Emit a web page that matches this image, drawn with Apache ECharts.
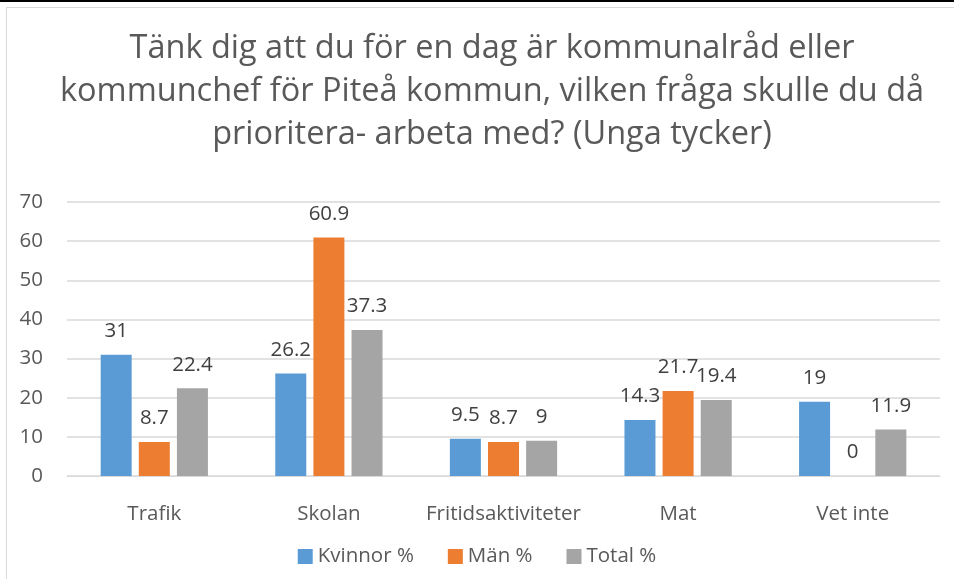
<!DOCTYPE html>
<html><head><meta charset="utf-8">
<script src="https://cdn.jsdelivr.net/npm/echarts@6/dist/echarts.min.js"></script>
<style>
html,body{margin:0;padding:0;background:#fff;}
#top{position:absolute;left:0;top:0;width:954px;height:2px;background:#000;}
#frame{position:absolute;left:6px;top:7px;width:960px;height:590px;border:1px solid #d9d9d9;}
#c{position:absolute;left:0;top:0;width:954px;height:579px;}
</style></head>
<body><div id="top"></div><div id="frame"></div><div id="c"></div>
<script>
const categories = ['Trafik','Skolan','Fritidsaktiviteter','Mat','Vet inte'];
const kvinnor = [31, 26.2, 9.5, 14.3, 19];
const man = [8.7, 60.9, 8.7, 21.7, 0];
const total = [22.4, 37.3, 9, 19.4, 11.9];
const seriesNames = ['Kvinnor %','Män %','Total %'];
const colors = ['#5B9BD5','#ED7D31','#A5A5A5'];
const titleText = 'Tänk dig att du för en dag är kommunalråd eller\nkommunchef för Piteå kommun, vilken fråga skulle du då\nprioritera- arbeta med? (Unga tycker)';

const chart = echarts.init(document.getElementById('c'));
const font = 'Open Sans, Noto Sans, sans-serif';
const mk = (name, data, color) => ({
  name, type:'bar', data, barWidth:31, barGap:'23%',
  itemStyle:{color},
  label:{show:true, position:'top', distance:13, color:'#404040', fontSize:20.5, fontFamily:font},
});
chart.setOption({
  animation:false,
  title:{text:titleText, left:487, top:22, textAlign:'center',
    textStyle:{fontSize:32.5, fontWeight:'normal', color:'#595959', fontFamily:font, lineHeight:43}},
  legend:{bottom:7, left:'center', itemWidth:15, itemHeight:15, itemGap:34, icon:'rect',
    textStyle:{fontSize:20.5, color:'#595959', fontFamily:font}},
  grid:{left:67, right:14, top:202, bottom:103},
  xAxis:{type:'category', data:categories,
    axisLine:{lineStyle:{color:'#d9d9d9', width:1}}, axisTick:{show:false},
    axisLabel:{interval:0, fontSize:20.5, color:'#595959', fontFamily:font, margin:28}},
  yAxis:{type:'value', min:0, max:70, interval:10,
    axisLine:{show:false}, axisTick:{show:false},
    splitLine:{lineStyle:{color:'#d9d9d9', width:1.5}},
    axisLabel:{fontSize:20.5, color:'#595959', fontFamily:font, margin:24}},
  series:[mk(seriesNames[0],kvinnor,colors[0]), mk(seriesNames[1],man,colors[1]), mk(seriesNames[2],total,colors[2])]
});
</script></body></html>
